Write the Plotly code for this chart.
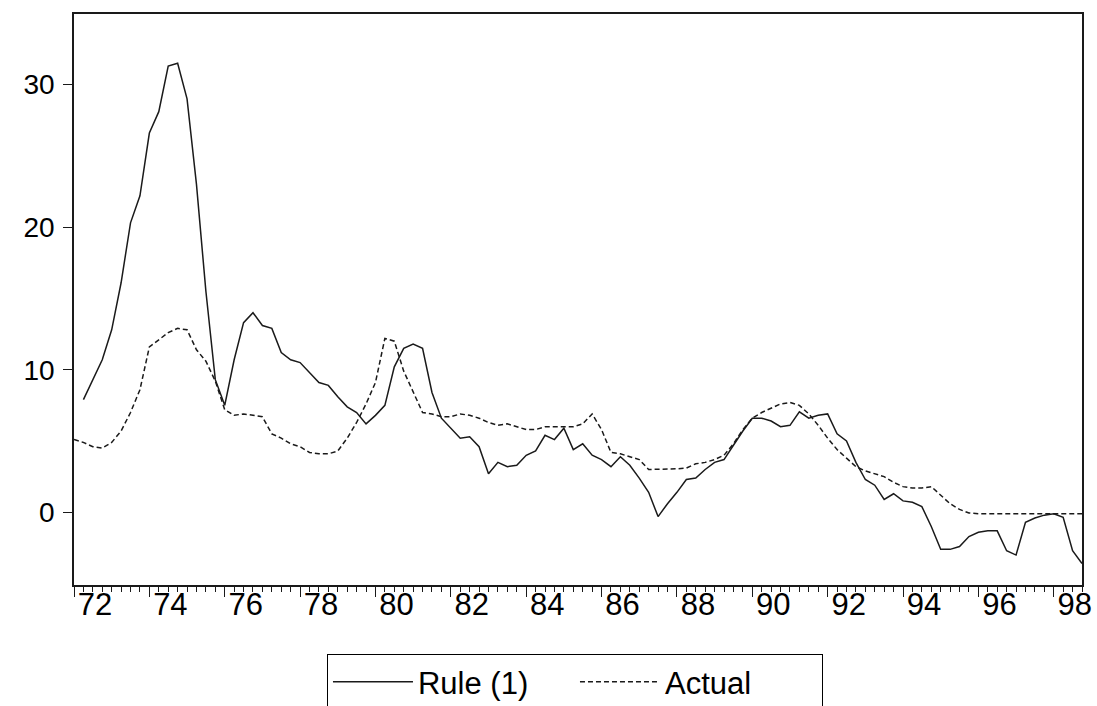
import plotly.graph_objects as go

# Quarterly data, 1972Q1 .. 1998Q4
years = list(range(1972, 1999))
quarters = [1, 2, 3, 4]

rule = [
    None, 7.9, 9.3, 10.7,        # 72
    12.8, 16.1, 20.3, 22.2,      # 73
    26.6, 28.1, 31.3, 31.5,      # 74
    29.0, 23.0, 15.5, 9.3,       # 75
    7.5, 10.7, 13.3, 14.0,       # 76
    13.1, 12.9, 11.2, 10.7,      # 77
    10.5, 9.8, 9.1, 8.9,         # 78
    8.1, 7.4, 7.0, 6.2,          # 79
    6.8, 7.5, 10.2, 11.5,        # 80
    11.8, 11.5, 8.4, 6.6,        # 81
    5.9, 5.2, 5.3, 4.6,          # 82
    2.7, 3.5, 3.2, 3.3,          # 83
    4.0, 4.3, 5.4, 5.1,          # 84
    5.9, 4.4, 4.8, 4.0,          # 85
    3.7, 3.2, 3.9, 3.3,          # 86
    2.4, 1.4, -0.3, 0.6,         # 87
    1.4, 2.3, 2.4, 3.0,          # 88
    3.5, 3.7, 4.7, 5.7,          # 89
    6.6, 6.6, 6.4, 6.0,          # 90
    6.1, 7.05, 6.6, 6.8,         # 91
    6.9, 5.5, 5.0, 3.5,          # 92
    2.3, 1.9, 0.9, 1.3,          # 93
    0.8, 0.7, 0.4, -1.0,         # 94
    -2.6, -2.6, -2.4, -1.7,      # 95
    -1.4, -1.3, -1.3, -2.7,      # 96
    -3.0, -0.7, -0.4, -0.2,      # 97
    -0.1, -0.35, -2.7, -3.6,     # 98
]

actual = [
    5.1, 4.9, 4.6, 4.5,          # 72
    4.9, 5.7, 7.0, 8.6,          # 73
    11.6, 12.1, 12.6, 12.9,      # 74
    12.8, 11.4, 10.6, 9.2,       # 75
    7.2, 6.8, 6.9, 6.8,          # 76
    6.7, 5.5, 5.2, 4.8,          # 77
    4.6, 4.2, 4.1, 4.1,          # 78
    4.3, 5.2, 6.3, 7.6,          # 79
    9.1, 12.2, 12.0, 9.9,        # 80
    8.4, 7.0, 6.9, 6.7,          # 81
    6.7, 6.9, 6.8, 6.6,          # 82
    6.3, 6.1, 6.2, 6.0,          # 83
    5.8, 5.8, 6.0, 6.0,          # 84
    6.0, 6.0, 6.2, 6.9,          # 85
    5.8, 4.2, 4.1, 3.9,          # 86
    3.7, 3.0, 3.0, 3.0,          # 87
    3.05, 3.1, 3.4, 3.5,         # 88
    3.7, 4.0, 4.8, 5.8,          # 89
    6.6, 7.0, 7.3, 7.6,          # 90
    7.7, 7.5, 6.9, 6.1,          # 91
    5.2, 4.4, 3.8, 3.2,          # 92
    2.9, 2.7, 2.5, 2.1,          # 93
    1.8, 1.7, 1.7, 1.8,          # 94
    1.2, 0.6, 0.2, -0.05,        # 95
    -0.1, -0.1, -0.1, -0.1,      # 96
    -0.1, -0.1, -0.1, -0.1,      # 97
    -0.1, -0.1, -0.1, -0.1,      # 98
]

tick_years = list(range(1972, 1999, 2))
tick_text = [str(y)[2:] for y in tick_years]
y_ticks = [0, 10, 20, 30]

# time position of each quarter (decimal years)
t = [y + (q - 1) / 4 for y in years for q in quarters]

FONT = "Liberation Sans, Arial, sans-serif"
INK = "#1a1a1a"

fig = go.Figure()
fig.add_trace(go.Scatter(
    x=t, y=rule, mode="lines", name="Rule (1)",
    line=dict(color=INK, width=1.5), connectgaps=False,
))
fig.add_trace(go.Scatter(
    x=t, y=actual, mode="lines", name="Actual",
    line=dict(color=INK, width=1.5, dash="5px,3px"),
))

fig.update_layout(
    width=1097, height=706,
    margin=dict(l=74, r=15, t=14, b=121, autoexpand=False),
    paper_bgcolor="white", plot_bgcolor="white",
    font=dict(family=FONT, color="black"),
    showlegend=True,
    legend=dict(
        orientation="h", x=0.497, xanchor="center", y=-0.121, yanchor="top",
        bordercolor="black", borderwidth=1, bgcolor="white",
        font=dict(size=31, family=FONT, color="black"),
        itemwidth=80, tracegroupgap=0,
        entrywidthmode="pixels", entrywidth=152,
    ),
)

fig.update_xaxes(
    range=[1972, 1998.75],
    tickmode="array", tickvals=tick_years, ticktext=tick_text,
    ticks="outside", ticklen=10, tickwidth=1, tickcolor=INK,
    ticklabelshift=21, ticklabelstandoff=-19,
    tickfont=dict(size=31, family=FONT, color="black"),
    minor=dict(tick0=1972, dtick=0.25, ticks="outside", ticklen=5,
               tickwidth=1, tickcolor=INK, showgrid=False),
    showline=True, linecolor=INK, linewidth=1.5, mirror=True,
    showgrid=False, zeroline=False,
)
fig.update_yaxes(
    range=[-5.1, 34.95],
    tickmode="array", tickvals=y_ticks,
    ticks="outside", ticklen=9, tickwidth=1, tickcolor=INK,
    ticklabelstandoff=3,
    tickfont=dict(size=28, family=FONT, color="black"),
    showline=True, linecolor=INK, linewidth=1.5, mirror=True,
    showgrid=False, zeroline=False,
)

fig.write_html("out.html")
